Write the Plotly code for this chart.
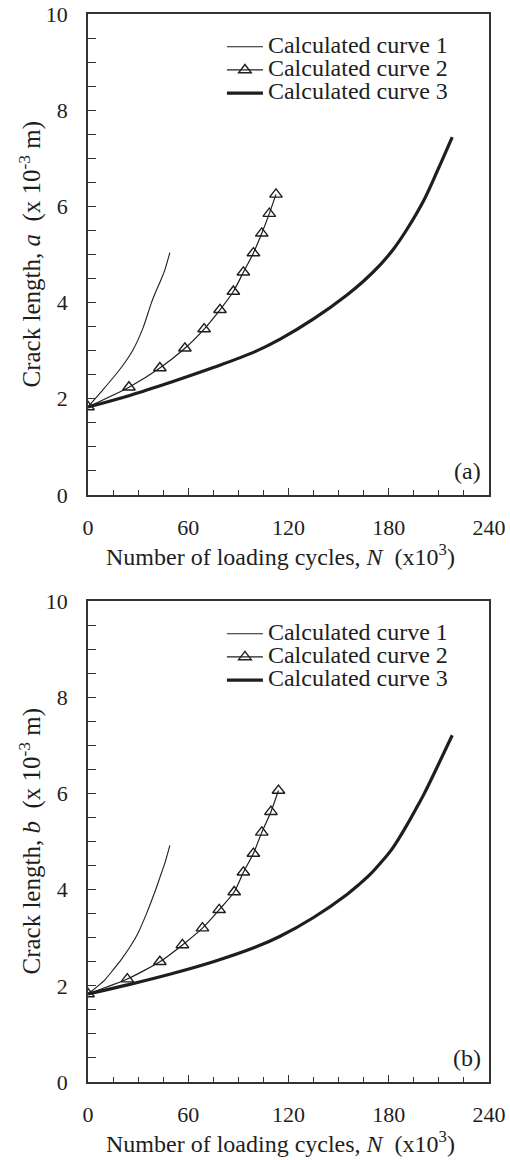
import plotly.graph_objects as go
from plotly.subplots import make_subplots

# ---------------- data (N in 10^3 cycles, crack length in 10^-3 m) ----------------
# Panel (a): crack length a
n1_a = [0, 8, 17, 22, 27, 33, 38, 41, 44, 46, 49]
c1_a = [1.83, 2.15, 2.52, 2.75, 3.02, 3.48, 4.0, 4.26, 4.5, 4.68, 5.04]

n2_a = [0, 24.5, 43, 58, 69.5, 79, 87, 93, 99, 104, 108.5, 112.5]
c2_a = [1.83, 2.24, 2.64, 3.05, 3.45, 3.85, 4.23, 4.63, 5.03, 5.44, 5.85, 6.25]

n3_a = [0, 25, 50, 75, 100, 115, 135, 155, 165, 175, 183, 191, 201, 209, 218]
c3_a = [1.83, 2.07, 2.35, 2.65, 2.98, 3.24, 3.66, 4.16, 4.45, 4.79, 5.12, 5.53, 6.13, 6.73, 7.44]

# Panel (b): crack length b
n1_b = [0, 10, 15, 20, 25, 30, 35, 40, 43, 46, 49]
c1_b = [1.83, 2.12, 2.33, 2.55, 2.8, 3.1, 3.5, 3.95, 4.25, 4.55, 4.92]

n2_b = [0, 23.5, 43, 56.5, 68.5, 78.5, 87.5, 93, 99, 104, 109.5, 114]
c2_b = [1.83, 2.14, 2.50, 2.85, 3.20, 3.58, 3.95, 4.36, 4.75, 5.19, 5.62, 6.06]

n3_b = [0, 25, 50, 75, 100, 115, 135, 155, 162, 169, 175, 181, 186, 191, 196, 201, 209, 218]
c3_b = [1.83, 2.03, 2.25, 2.5, 2.8, 3.03, 3.42, 3.9, 4.1, 4.32, 4.55, 4.8, 5.06, 5.35, 5.66, 5.98, 6.55, 7.21]

names = ["Calculated curve 1", "Calculated curve 2", "Calculated curve 3"]
x_ticks = [0, 60, 120, 180, 240]
y_ticks = [0, 2, 4, 6, 8, 10]
panel_labels = ["(a)", "(b)"]
y_titles = ["Crack length, <i>a</i>  (x 10<sup>-3</sup> m)",
            "Crack length, <i>b</i>  (x 10<sup>-3</sup> m)"]
x_title = "Number of loading cycles, <i>N</i>  (x10<sup>3</sup>)"

FONT = "Liberation Serif"
INK = "#1e1e1e"
AX = "#333333"
TITLE_SIZE = 25
XTITLE_SIZE = 24
LEGEND_SIZE = 24
TICK_SIZE = 22

fig = make_subplots(rows=2, cols=1, vertical_spacing=0.0993)

panels = [
    (n1_a, c1_a, n2_a, c2_a, n3_a, c3_a, "legend"),
    (n1_b, c1_b, n2_b, c2_b, n3_b, c3_b, "legend2"),
]


def lg_text(s):
    return '<span style="font-size:%dpx">%s</span>' % (LEGEND_SIZE, s)


for i, (n1, c1, n2, c2, n3, c3, lg) in enumerate(panels):
    row = i + 1
    fig.add_trace(go.Scatter(
        x=n1, y=c1, mode="lines", name=lg_text(names[0]), legend=lg,
        line=dict(color=INK, width=1.1, shape="spline", smoothing=0.6),
    ), row=row, col=1)
    fig.add_trace(go.Scatter(
        x=n2, y=c2, mode="lines+markers", name=lg_text(names[1]), legend=lg,
        line=dict(color=INK, width=1.2, shape="spline", smoothing=0.6),
        marker=dict(symbol="triangle-up-open", size=11, color=INK,
                    line=dict(width=1.4, color=INK)),
    ), row=row, col=1)
    fig.add_trace(go.Scatter(
        x=n3, y=c3, mode="lines", name=lg_text(names[2]), legend=lg,
        line=dict(color=INK, width=3.2, shape="spline", smoothing=1.0),
    ), row=row, col=1)

    fig.update_xaxes(
        row=row, col=1, range=[0, 240], tickvals=x_ticks, automargin=False,
        ticks="inside", ticklen=7, tickwidth=1.3, tickcolor=AX,
        minor=dict(dtick=15, ticks="inside", ticklen=5, tickwidth=1.3, tickcolor=AX),
        showline=True, linewidth=1.6, linecolor=AX, mirror=True,
        showgrid=False, zeroline=False, ticklabelstandoff=12,
        tickfont=dict(family=FONT, size=TICK_SIZE, color=INK),
    )
    fig.update_yaxes(
        row=row, col=1, range=[0, 10], tickvals=y_ticks, automargin=False,
        ticks="inside", ticklen=8, tickwidth=1.3, tickcolor=AX,
        minor=dict(dtick=0.5, ticks="inside", ticklen=8, tickwidth=1.3, tickcolor=AX),
        showline=True, linewidth=1.6, linecolor=AX, mirror=True,
        showgrid=False, zeroline=False, ticklabelstandoff=14,
        tickfont=dict(family=FONT, size=TICK_SIZE, color=INK),
    )
    xd = "x domain" if row == 1 else "x2 domain"
    yd = "y domain" if row == 1 else "y2 domain"
    # panel label
    fig.add_annotation(text=panel_labels[i], xref=xd, yref=yd, x=0.985, y=0.05,
                       xanchor="right", yanchor="middle", showarrow=False,
                       font=dict(family=FONT, size=24, color=INK))
    # x-axis title
    fig.add_annotation(text=x_title, xref=xd, yref=yd, x=0.479, y=-0.124,
                       xanchor="center", yanchor="middle", showarrow=False,
                       font=dict(family=FONT, size=XTITLE_SIZE, color=INK))
    # y-axis title
    fig.add_annotation(text=y_titles[i], xref=xd, yref=yd, x=-0.1446, y=0.5,
                       xanchor="center", yanchor="middle", showarrow=False,
                       textangle=-90,
                       font=dict(family=FONT, size=TITLE_SIZE, color=INK))

legend_common = dict(
    xanchor="left", yanchor="top", bgcolor="rgba(0,0,0,0)", borderwidth=0,
    font=dict(family=FONT, size=15.5, color=INK), tracegroupgap=0, itemwidth=36,
)
fig.update_layout(
    width=510, height=1160,
    margin=dict(l=88, r=21, t=14, b=78),
    paper_bgcolor="white", plot_bgcolor="white",
    font=dict(family=FONT, size=TICK_SIZE, color=INK),
    legend=dict(x=0.334, y=0.9848, **legend_common),
    legend2=dict(x=0.334, y=0.4352, **legend_common),
)

fig.write_html("out.html")
